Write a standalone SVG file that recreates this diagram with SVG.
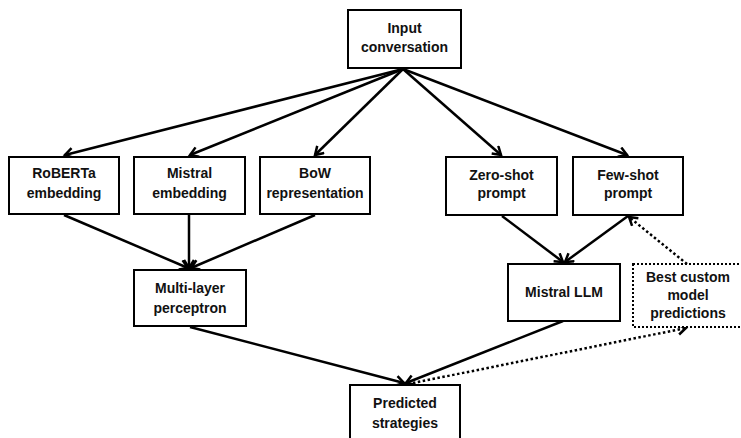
<svg xmlns="http://www.w3.org/2000/svg" width="741" height="438" viewBox="0 0 741 438">
<style>
.box{fill:#fff;stroke:#000;stroke-width:2}
.dbox{fill:#fff;stroke:#000;stroke-width:2;stroke-dasharray:2 2}
.t{font-family:"Liberation Sans",Arial,sans-serif;font-weight:bold;font-size:14px;text-anchor:middle;fill:#111}
.e{fill:none;stroke:#000;stroke-width:2.5}
.d{fill:none;stroke:#000;stroke-width:2.5;stroke-dasharray:2.5 2.5}
</style>
<defs>
<marker id="ah" markerWidth="14" markerHeight="14" refX="10" refY="6" orient="auto" markerUnits="userSpaceOnUse">
<polyline points="2,1 10,6 2,11" fill="none" stroke="#000" stroke-width="2.5"/>
</marker>
</defs>
<rect width="741" height="438" fill="#fff"/>
<g id="edges">
<line class="e" x1="403" y1="69" x2="65" y2="155" marker-end="url(#ah)"/>
<line class="e" x1="403" y1="69" x2="190" y2="155" marker-end="url(#ah)"/>
<line class="e" x1="403" y1="69" x2="315" y2="155" marker-end="url(#ah)"/>
<line class="e" x1="403" y1="69" x2="501" y2="155" marker-end="url(#ah)"/>
<line class="e" x1="403" y1="69" x2="627" y2="155" marker-end="url(#ah)"/>
<line class="e" x1="64" y1="215" x2="188" y2="268" marker-end="url(#ah)"/>
<line class="e" x1="189" y1="215" x2="189" y2="268" marker-end="url(#ah)"/>
<line class="e" x1="315" y1="215" x2="191" y2="268" marker-end="url(#ah)"/>
<line class="e" x1="502" y1="216" x2="563" y2="262" marker-end="url(#ah)"/>
<line class="e" x1="628" y1="216" x2="565" y2="262" marker-end="url(#ah)"/>
<line class="e" x1="190" y1="327" x2="404" y2="383" marker-end="url(#ah)"/>
<line class="e" x1="563" y1="321" x2="406" y2="383" marker-end="url(#ah)"/>
<line class="d" x1="408" y1="384" x2="686" y2="328" marker-end="url(#ah)"/>
<line class="d" x1="687" y1="264" x2="629" y2="217" marker-end="url(#ah)"/>
</g>
<g id="input"><rect class="box" x="348" y="10" width="113" height="58"/><text class="t" x="404.5" y="33">Input</text><text class="t" x="404.5" y="52">conversation</text></g>
<g id="roberta"><rect class="box" x="9" y="157" width="110" height="57"/><text class="t" x="64" y="178">RoBERTa</text><text class="t" x="64" y="198">embedding</text></g>
<g id="mistral-emb"><rect class="box" x="134" y="157" width="111" height="57"/><text class="t" x="189.5" y="178">Mistral</text><text class="t" x="189.5" y="198">embedding</text></g>
<g id="bow"><rect class="box" x="260" y="157" width="110" height="57"/><text class="t" x="315" y="178">BoW</text><text class="t" x="315" y="198">representation</text></g>
<g id="zero-shot"><rect class="box" x="446" y="157" width="111" height="58"/><text class="t" x="501.5" y="180">Zero-shot</text><text class="t" x="501.5" y="198">prompt</text></g>
<g id="few-shot"><rect class="box" x="573" y="157" width="110" height="58"/><text class="t" x="628" y="180">Few-shot</text><text class="t" x="628" y="198">prompt</text></g>
<g id="mlp"><rect class="box" x="134" y="270" width="112" height="56"/><text class="t" x="190" y="293">Multi-layer</text><text class="t" x="190" y="313">perceptron</text></g>
<g id="mistral-llm"><rect class="box" x="508" y="264" width="112" height="57"/><text class="t" x="564" y="297">Mistral LLM</text></g>
<g id="best-custom"><rect class="dbox" x="633" y="264" width="110" height="63"/><text class="t" x="688" y="282">Best custom</text><text class="t" x="688" y="300">model</text><text class="t" x="688" y="318">predictions</text></g>
<g id="predicted"><rect class="box" x="350" y="385" width="110" height="60"/><text class="t" x="405" y="408">Predicted</text><text class="t" x="405" y="428">strategies</text></g>
</svg>
